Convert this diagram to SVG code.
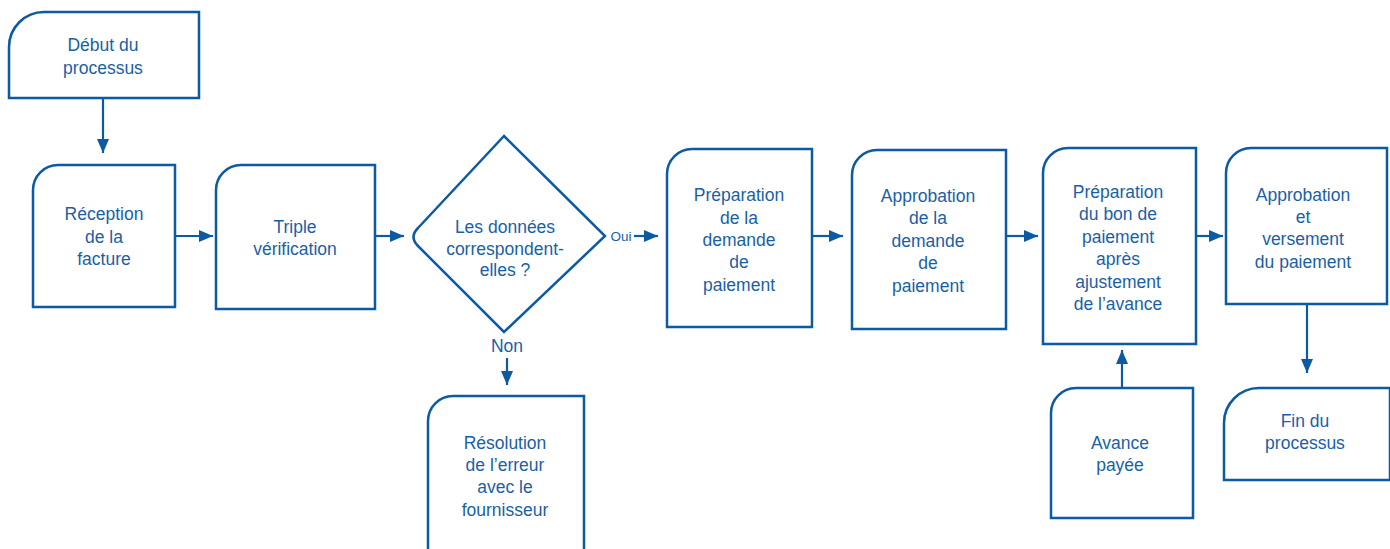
<svg xmlns="http://www.w3.org/2000/svg" width="1390" height="549" viewBox="0 0 1390 549">
  <defs>
    <marker id="arrow" viewBox="0 0 14 12" refX="14" refY="6" markerWidth="14" markerHeight="12" markerUnits="userSpaceOnUse" orient="auto">
      <path d="M0,0 L14,6 L0,12 z" fill="#0b5aa2"/>
    </marker>
    <style>
      .shape { fill: #ffffff; stroke: #0b5aa2; stroke-width: 2.5; }
      .label { font-family: "Liberation Sans", Arial, sans-serif; font-size: 17.5px; fill: #1a5fa6; text-anchor: middle; }
      .small { font-size: 13.5px; }
      .link { stroke: #0b5aa2; stroke-width: 2.2; fill: none; marker-end: url(#arrow); }
    </style>
  </defs>
  <rect width="1390" height="549" fill="#ffffff"/>

  <g id="debut">
    <path class="shape" d="M9,98 V47 A35,35 0 0 1 44,12 H199 V98 Z"/>
    <text class="label" x="103" y="51">Début du</text>
    <text class="label" x="103" y="74">processus</text>
  </g>

  <g id="reception">
    <path class="shape" d="M33,307 V190 A25,25 0 0 1 58,165 H175 V307 Z"/>
    <text class="label" x="104" y="220">Réception</text>
    <text class="label" x="104" y="243">de la</text>
    <text class="label" x="104" y="265">facture</text>
  </g>

  <g id="triple">
    <path class="shape" d="M216,309 V190 A25,25 0 0 1 241,165 H375 V309 Z"/>
    <text class="label" x="295" y="233">Triple</text>
    <text class="label" x="295" y="255">vérification</text>
  </g>

  <g id="decision">
    <path class="shape" d="M504,136 L605,236 L504,332 L418,246 Q409,237 418,228 Z"/>
    <text class="label" x="505" y="233">Les données</text>
    <text class="label" x="505" y="255">correspondent-</text>
    <text class="label" x="505" y="276">elles ?</text>
  </g>

  <g id="resolution">
    <path class="shape" d="M428,552 V421 A25,25 0 0 1 453,396 H584 V552"/>
    <text class="label" x="505" y="449">Résolution</text>
    <text class="label" x="505" y="471">de l’erreur</text>
    <text class="label" x="505" y="493">avec le</text>
    <text class="label" x="505" y="516">fournisseur</text>
  </g>

  <g id="preparation-demande">
    <path class="shape" d="M667,327 V174 A25,25 0 0 1 692,149 H812 V327 Z"/>
    <text class="label" x="739" y="201">Préparation</text>
    <text class="label" x="739" y="224">de la</text>
    <text class="label" x="739" y="246">demande</text>
    <text class="label" x="739" y="268">de</text>
    <text class="label" x="739" y="291">paiement</text>
  </g>

  <g id="approbation-demande">
    <path class="shape" d="M852,329 V175 A25,25 0 0 1 877,150 H1006 V329 Z"/>
    <text class="label" x="928" y="202">Approbation</text>
    <text class="label" x="928" y="224">de la</text>
    <text class="label" x="928" y="247">demande</text>
    <text class="label" x="928" y="269">de</text>
    <text class="label" x="928" y="292">paiement</text>
  </g>

  <g id="bon-paiement">
    <path class="shape" d="M1043,344 V173 A25,25 0 0 1 1068,148 H1196 V344 Z"/>
    <text class="label" x="1118" y="198">Préparation</text>
    <text class="label" x="1118" y="220">du bon de</text>
    <text class="label" x="1118" y="243">paiement</text>
    <text class="label" x="1118" y="265">après</text>
    <text class="label" x="1118" y="288">ajustement</text>
    <text class="label" x="1118" y="310">de l’avance</text>
  </g>

  <g id="versement">
    <path class="shape" d="M1226,304 V173 A25,25 0 0 1 1251,148 H1387 V304 Z"/>
    <text class="label" x="1303" y="201">Approbation</text>
    <text class="label" x="1303" y="223">et</text>
    <text class="label" x="1303" y="245">versement</text>
    <text class="label" x="1303" y="268">du paiement</text>
  </g>

  <g id="avance">
    <path class="shape" d="M1051,518 V413 A25,25 0 0 1 1076,388 H1193 V518 Z"/>
    <text class="label" x="1120" y="449">Avance</text>
    <text class="label" x="1120" y="471">payée</text>
  </g>

  <g id="fin">
    <path class="shape" d="M1224,480 V423 A35,35 0 0 1 1259,388 H1390 V480 Z"/>
    <text class="label" x="1305" y="427">Fin du</text>
    <text class="label" x="1305" y="449">processus</text>
  </g>

  <g id="connectors">
    <line class="link" x1="103" y1="98" x2="103" y2="153"/>
    <line class="link" x1="175" y1="236" x2="213" y2="236"/>
    <line class="link" x1="375" y1="236" x2="404" y2="236"/>
    <line class="link" x1="634" y1="236" x2="658" y2="236"/>
    <line class="link" x1="812" y1="236" x2="843" y2="236"/>
    <line class="link" x1="1006" y1="236" x2="1038" y2="236"/>
    <line class="link" x1="1196" y1="236" x2="1223" y2="236"/>
    <line class="link" x1="1307" y1="304" x2="1307" y2="373"/>
    <line class="link" x1="1122" y1="388" x2="1122" y2="350"/>
    <line class="link" x1="507" y1="358" x2="507" y2="385"/>
    <text class="label small" x="621" y="241">Oui</text>
    <text class="label" x="507" y="352">Non</text>
  </g>
</svg>
